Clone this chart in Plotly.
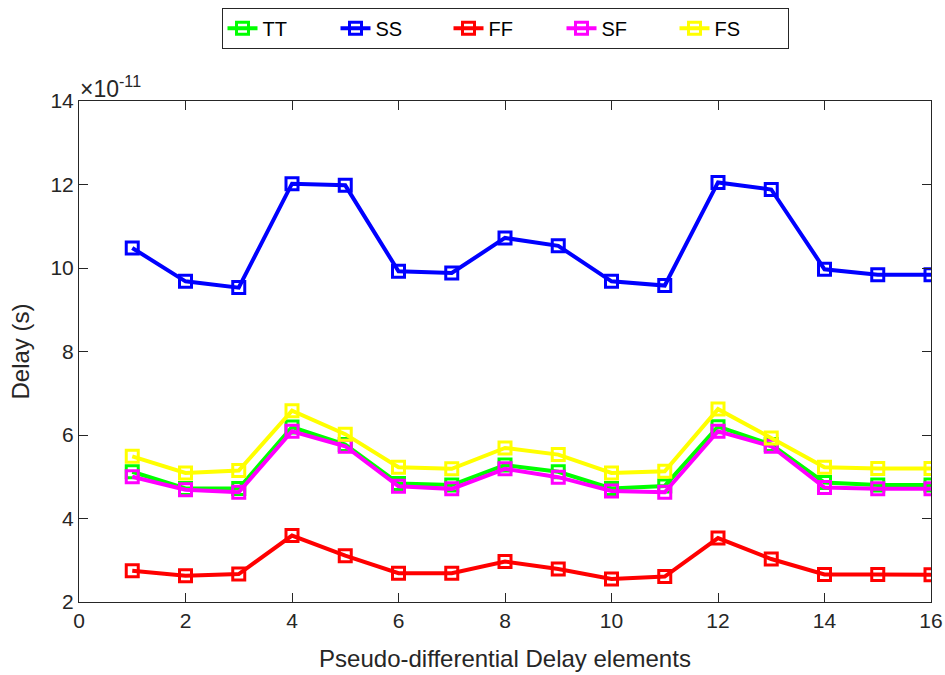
import plotly.graph_objects as go

# Delay of each pseudo-differential element per process corner (units of 1e-11 s)
elements = list(range(1, 17))
tt = [5.12, 4.72, 4.72, 6.19, 5.77, 4.84, 4.80, 5.28, 5.12, 4.72, 4.78, 6.20, 5.77, 4.86, 4.80, 4.80]
ss = [10.48, 9.68, 9.53, 12.02, 11.98, 9.92, 9.88, 10.72, 10.53, 9.68, 9.58, 12.05, 11.88, 9.97, 9.84, 9.84]
ff = [2.75, 2.63, 2.67, 3.59, 3.11, 2.69, 2.69, 2.97, 2.79, 2.55, 2.61, 3.53, 3.03, 2.66, 2.66, 2.65]
sf = [5.00, 4.69, 4.63, 6.09, 5.73, 4.77, 4.71, 5.19, 4.99, 4.66, 4.63, 6.09, 5.73, 4.74, 4.71, 4.71]
fs = [5.49, 5.09, 5.15, 6.58, 6.02, 5.23, 5.19, 5.69, 5.53, 5.09, 5.13, 6.62, 5.93, 5.23, 5.20, 5.20]

series = [
    ("TT", tt, "#00ff00"),
    ("SS", ss, "#0000ff"),
    ("FF", ff, "#ff0000"),
    ("SF", sf, "#ff00ff"),
    ("FS", fs, "#ffff00"),
]

x_ticks = [0, 2, 4, 6, 8, 10, 12, 14, 16]
y_ticks = [2, 4, 6, 8, 10, 12, 14]

FONT = "Liberation Sans, Arial, sans-serif"
INK = "#262626"

fig = go.Figure()
for name, vals, color in series:
    fig.add_trace(go.Scatter(
        x=elements, y=vals, name=name, mode="lines+markers",
        line=dict(color=color, width=4),
        marker=dict(symbol="square-open", size=12, color=color,
                    line=dict(color=color, width=3)),
    ))

axis_common = dict(
    showline=True, linecolor=INK, linewidth=1, mirror="ticks",
    ticks="inside", ticklen=9, tickwidth=1, tickcolor=INK,
    showgrid=False, zeroline=False, ticklabeloverflow="allow",
    automargin=False,
    tickfont=dict(family=FONT, size=21, color=INK),
)

fig.update_xaxes(range=[0, 16], tickvals=x_ticks, **axis_common,
                 title=dict(text="Pseudo-differential Delay elements",
                            font=dict(family=FONT, size=24, color=INK),
                            standoff=18))
fig.update_yaxes(range=[2, 14], tickvals=y_ticks, **axis_common,
                 title=dict(text="Delay (s)",
                            font=dict(family=FONT, size=24, color=INK),
                            standoff=14))

# axis multiplier shown above the top-left corner
fig.add_annotation(
    x=0, y=1, xref="paper", yref="paper", xanchor="left", yanchor="bottom",
    text="×10<sup>-11</sup>", showarrow=False, xshift=-1, yshift=-3,
    font=dict(family=FONT, size=23, color=INK),
)

fig.update_layout(
    width=945, height=675,
    margin=dict(l=79, r=14, t=101, b=73, autoexpand=False),
    paper_bgcolor="white", plot_bgcolor="white",
    showlegend=True,
    legend=dict(
        orientation="h", x=0.5, xanchor="center", y=1.186, yanchor="top",
        bordercolor=INK, borderwidth=1, bgcolor="white",
        font=dict(family=FONT, size=20, color="black"),
        entrywidth=68, entrywidthmode="pixels", tracegroupgap=0,
    ),
)

fig.write_html("out.html")
